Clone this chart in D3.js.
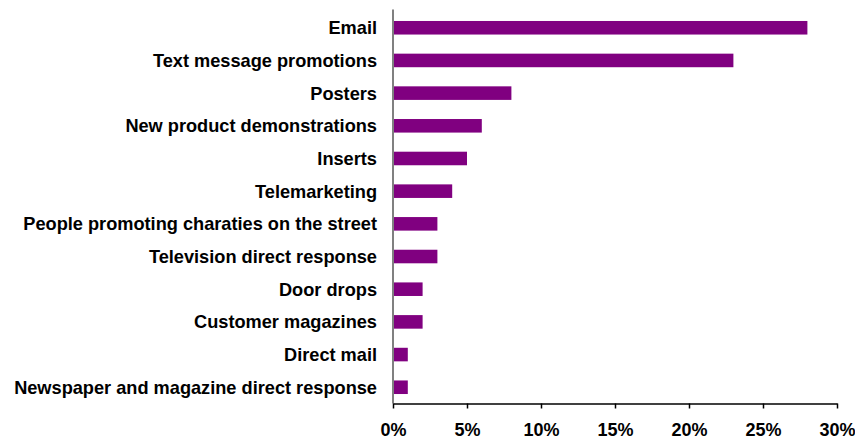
<!DOCTYPE html>
<html>
<head>
<meta charset="utf-8">
<script src="https://cdn.jsdelivr.net/npm/d3@7"></script>
<style>
  html, body { margin: 0; padding: 0; background: #fff; }
  svg { display: block; }
  text { font-family: "Liberation Sans", Arial, sans-serif; font-weight: bold; fill: #000; }
</style>
</head>
<body>
<svg id="chart" width="855" height="439"></svg>
<script>
// Share of respondents by marketing channel
const categories = [
  "Email",
  "Text message promotions",
  "Posters",
  "New product demonstrations",
  "Inserts",
  "Telemarketing",
  "People promoting charaties on the street",
  "Television direct response",
  "Door drops",
  "Customer magazines",
  "Direct mail",
  "Newspaper and magazine direct response"
];
const values = [28, 23, 8, 6, 5, 4, 3, 3, 2, 2, 1, 1];
const tickValues = [0, 5, 10, 15, 20, 25, 30];

const svg = d3.select("#chart");
const plotLeft = 393, plotRight = 837, plotTop = 11.5, plotBottom = 403.5;

const x = d3.scaleLinear().domain([0, 30]).range([plotLeft, plotRight]);
const y = d3.scaleBand().domain(categories).range([plotTop, plotBottom]).paddingInner(0.585).paddingOuter(0.29);

// bars
svg.append("g").selectAll("rect")
  .data(categories)
  .join("rect")
  .attr("x", x(0))
  .attr("y", d => y(d))
  .attr("width", (d, i) => x(values[i]) - x(0))
  .attr("height", y.bandwidth())
  .attr("fill", "#800080");

// category axis (vertical line, no ticks)
svg.append("line")
  .attr("x1", x(0)).attr("x2", x(0))
  .attr("y1", plotTop - 2).attr("y2", plotBottom)
  .attr("stroke", "#808080").attr("stroke-width", 2);

// category labels
svg.append("g").selectAll("text")
  .data(categories)
  .join("text")
  .attr("x", 377)
  .attr("y", d => y(d) + y.bandwidth() / 2)
  .attr("dy", "0.36em")
  .attr("text-anchor", "end")
  .attr("font-size", 18.2)
  .text(d => d);

// value axis
const xAxis = d3.axisBottom(x)
  .tickValues(tickValues)
  .tickFormat(d => d + "%")
  .tickSize(5)
  .tickPadding(14.5)
  .tickSizeOuter(0);

const gx = svg.append("g")
  .attr("transform", `translate(0,${plotBottom})`)
  .call(xAxis);
gx.select(".domain").attr("stroke", "#000").attr("stroke-width", 1.5);
gx.selectAll(".tick line").attr("stroke", "#000").attr("stroke-width", 1.5);
gx.selectAll(".tick text")
  .attr("font-size", 18)
  .attr("font-family", "\"Liberation Sans\", Arial, sans-serif")
  .attr("font-weight", "bold")
  .attr("fill", "#000");
</script>
</body>
</html>
